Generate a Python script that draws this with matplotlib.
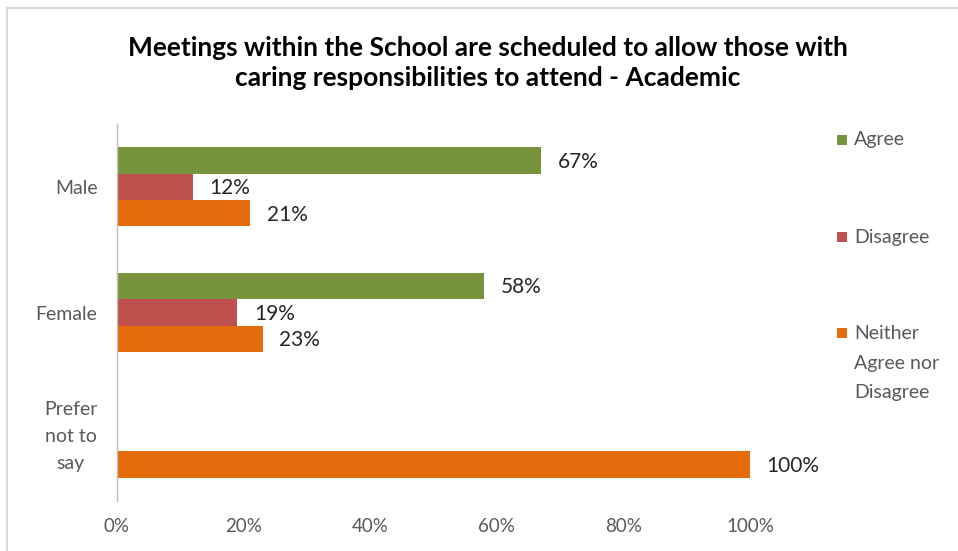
import matplotlib
matplotlib.use("Agg")
import matplotlib.pyplot as plt
from matplotlib.patches import Rectangle
from matplotlib.transforms import ScaledTranslation
import numpy as np

plt.rcParams['font.family'] = ['Lato', 'DejaVu Sans']

categories = ["Male", "Female", "Prefer\nnot to\nsay"]
series_names = ["Agree", "Disagree", "Neither\nAgree nor\nDisagree"]
agree = [0.67, 0.58, np.nan]
disagree = [0.12, 0.19, np.nan]
neither = [0.21, 0.23, 1.00]
colors = ["#77933C", "#C0504D", "#E46C0A"]
x_ticks = [0, 0.2, 0.4, 0.6, 0.8, 1.0]
x_tick_labels = ["0%", "20%", "40%", "60%", "80%", "100%"]
title = ("Meetings within the School are scheduled to allow those with\n"
         "caring responsibilities to attend - Academic")

fig = plt.figure(figsize=(9.58, 5.51), dpi=100)
ax = fig.add_axes([117 / 958, 1 - 501 / 551, (750 - 117) / 958, (501 - 124) / 551])

y = np.arange(len(categories))
bar_h = 0.21
values = [agree, disagree, neither]
for i, (vals, col) in enumerate(zip(values, colors)):
    pos = y + (i - 1) * bar_h
    ax.barh(pos, vals, height=bar_h, color=col)
    for p, v in zip(pos, vals):
        if np.isnan(v):
            continue
        ax.annotate(f"{v * 100:.0f}%", xy=(v, p), xytext=(12, -1),
                    textcoords="offset points", ha="left", va="center",
                    fontsize=15, color="#262626")

ax.set_xlim(0, 1.0)
ax.set_ylim(2.5, -0.5)
ax.set_yticks(y)
ax.set_yticklabels(categories, fontsize=14, color="#595959", ha="right",
                   multialignment="center", linespacing=1.7)
ax.tick_params(axis="y", length=0, pad=14)
# the three-line label sits a little above its category centre
multi = ax.get_yticklabels()[2]
multi.set_transform(multi.get_transform() +
                    ScaledTranslation(0, 0.08, fig.dpi_scale_trans))
ax.set_xticks(x_ticks)
ax.set_xticklabels(x_tick_labels, fontsize=13.5, color="#595959")
ax.tick_params(axis="x", length=0, pad=12)

for s in ["top", "right", "bottom"]:
    ax.spines[s].set_visible(False)
ax.spines["left"].set_color("#BFBFBF")
ax.spines["left"].set_linewidth(1.0)

fig.text(488 / 958, 1 - 63 / 551, title, ha="center", va="center",
         fontsize=19, fontweight="bold", color="#000000", linespacing=1.25)

# legend entries drawn at the right of the plot area
legend_rows = [140, 237, 333]
for name, col, ry in zip(series_names, colors, legend_rows):
    yf = 1 - ry / 551
    fig.patches.append(Rectangle((837 / 958, yf - 5 / 551), 10 / 958, 10 / 551,
                                 transform=fig.transFigure, facecolor=col,
                                 edgecolor="none"))
    if "\n" in name:
        fig.text(854 / 958, 1 - (ry - 8) / 551, name, ha="left", va="top",
                 fontsize=14, color="#595959", linespacing=1.9)
    else:
        fig.text(854 / 958, yf, name, ha="left", va="center",
                 fontsize=14, color="#595959")

# chart frame
fig.patches.append(Rectangle((7 / 958, -0.1), 1.2, 1 - 8 / 551 + 0.1,
                             transform=fig.transFigure, facecolor="none",
                             edgecolor="#D9D9D9", linewidth=1.5))

fig.savefig("out.png", dpi=100)
